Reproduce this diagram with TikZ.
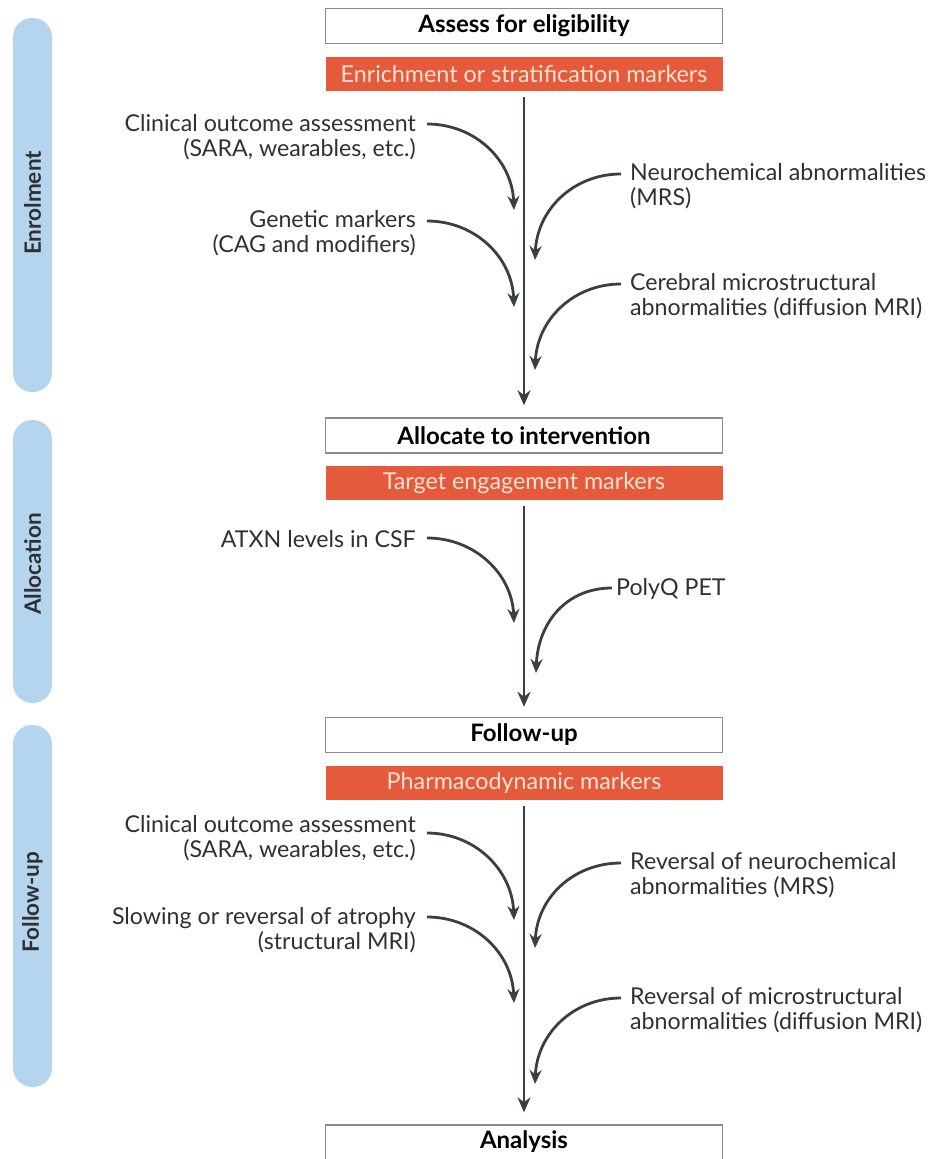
\documentclass[tikz,border=0pt]{standalone}
\usepackage{fontspec}
\setmainfont{Lato}
\usetikzlibrary{arrows.meta}
\definecolor{txt}{HTML}{2E3134}
\definecolor{arr}{HTML}{3A3F43}
\definecolor{orng}{HTML}{E45A3B}
\definecolor{orngtxt}{HTML}{FDE3D3}
\definecolor{sideblue}{HTML}{B5D5EE}
\definecolor{boxline}{HTML}{8A8C8E}
\tikzset{
  whitebox/.style={draw=boxline, line width=1.4pt, fill=white, minimum width=397pt, minimum height=35pt, inner sep=0pt, font=\fontsize{24}{26}\selectfont\bfseries, text=black},
  orangebox/.style={fill=orng, minimum width=397pt, minimum height=34pt, inner sep=0pt, font=\fontsize{23.3}{26}\selectfont, text=orngtxt},
  sidebar/.style={fill=sideblue, rounded corners=19pt, minimum width=39pt, inner sep=0pt},
  sidelabel/.style={rotate=90, font=\fontsize{22.5}{24}\selectfont\bfseries, text=txt},
  ltext/.style={anchor=east, align=right, font=\fontsize{23.2}{25}\selectfont, text=txt, inner sep=0pt},
  rtext/.style={anchor=west, align=left, font=\fontsize{23.2}{25}\selectfont, text=txt, inner sep=0pt},
  mainarrow/.style={draw=arr, line width=2.8pt, -{Stealth[length=15pt, width=13pt]}},
  curvearrow/.style={draw=arr, line width=2.8pt, -{Stealth[length=14pt, width=12pt]}},
}
\begin{document}
\begin{tikzpicture}[x=1pt, y=-1pt]
\useasboundingbox (0,0) rectangle (934,1159);
\clip (0,0) rectangle (934,1159);

% side bars
\node[sidebar, minimum height=374pt] (enbar) at (32.5,205) {};
\node[sidelabel] (enlab) at (32.5,203) {Enrolment};
\node[sidebar, minimum height=283pt] (albar) at (32.5,561.5) {};
\node[sidelabel] (allab) at (32.5,564) {Allocation};
\node[sidebar, minimum height=362pt] (fubar) at (32.5,906) {};
\node[sidelabel] (fulab) at (32.5,902) {Follow-up};

% main boxes
\node[whitebox] (assess) at (524,26) {Assess for eligibility};
\node[orangebox] (enrich) at (524,74) {Enrichment or stratification markers};
\node[whitebox] (alloc) at (524,435.5) {Allocate to intervention};
\node[orangebox] (target) at (524,483) {Target engagement markers};
\node[whitebox] (follow) at (524,735) {Follow-up};
\node[orangebox] (pharma) at (524,783) {Pharmacodynamic markers};
\node[whitebox, minimum height=42pt] (analysis) at (524,1146) {};
\node[font=\fontsize{24}{26}\selectfont\bfseries, text=black] (analysistxt) at (524,1142) {Analysis};

% main arrows
\draw[mainarrow, shorten <=6pt, shorten >=12pt] (enrich.south) -- (alloc.north);
\draw[mainarrow, shorten <=6pt, shorten >=10pt] (target.south) -- (follow.north);
\draw[mainarrow, shorten <=6pt, shorten >=12pt] (pharma.south) -- (analysis.north);

% Enrolment texts
\node[ltext] (e1) at (416,137) {Clinical outcome assessment\\(SARA, wearables, etc.)};
\node[ltext] (e2) at (416,233) {Genetic markers\\(CAG and modifiers)};
\node[rtext] (e3) at (630,186) {Neurochemical abnormalities\\(MRS)};
\node[rtext] (e4) at (630,296) {Cerebral microstructural\\abnormalities (diffusion MRI)};

\coordinate (e1s) at (427,124); \coordinate (e1t) at (514,210);
\coordinate (e2s) at (427,221); \coordinate (e2t) at (514,307);
\coordinate (e3s) at (621,174); \coordinate (e3t) at (535,260);
\coordinate (e4s) at (621,284); \coordinate (e4t) at (535,370);

\draw[curvearrow] (e1s) .. controls (475,124) and (512,160) .. (e1t);
\draw[curvearrow] (e2s) .. controls (475,221) and (512,257) .. (e2t);
\draw[curvearrow] (e3s) .. controls (573,174) and (537,210) .. (e3t);
\draw[curvearrow] (e4s) .. controls (573,284) and (537,320) .. (e4t);

% Allocation texts
\node[ltext] (a1) at (416,539) {ATXN levels in CSF};
\node[rtext] (a2) at (616,589) {PolyQ PET};
\coordinate (a1s) at (427,538); \coordinate (a1t) at (514,623);
\coordinate (a2s) at (612,588); \coordinate (a2t) at (536,673);
\draw[curvearrow] (a1s) .. controls (475,538) and (512,574) .. (a1t);
\draw[curvearrow] (a2s) .. controls (565,588) and (538,624) .. (a2t);

% Follow-up texts
\node[ltext] (f1) at (416,838) {Clinical outcome assessment\\(SARA, wearables, etc.)};
\node[ltext] (f2) at (416,930) {Slowing or reversal of atrophy\\(structural MRI)};
\node[rtext] (f3) at (630,875) {Reversal of neurochemical\\abnormalities (MRS)};
\node[rtext] (f4) at (630,1010) {Reversal of microstructural\\abnormalities (diffusion MRI)};

\coordinate (f1s) at (427,833); \coordinate (f1t) at (514,920);
\coordinate (f2s) at (427,917); \coordinate (f2t) at (514,1003);
\coordinate (f3s) at (621,863); \coordinate (f3t) at (535,948);
\coordinate (f4s) at (621,998); \coordinate (f4t) at (535,1084);

\draw[curvearrow] (f1s) .. controls (475,833) and (512,870) .. (f1t);
\draw[curvearrow] (f2s) .. controls (475,917) and (512,953) .. (f2t);
\draw[curvearrow] (f3s) .. controls (573,863) and (537,898) .. (f3t);
\draw[curvearrow] (f4s) .. controls (573,998) and (537,1034) .. (f4t);
\end{tikzpicture}
\end{document}
